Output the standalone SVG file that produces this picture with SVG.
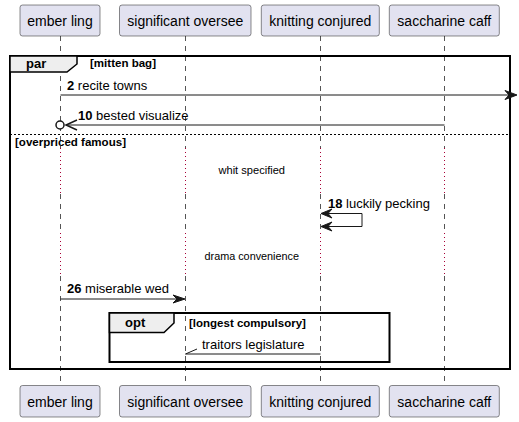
<svg xmlns="http://www.w3.org/2000/svg" width="519" height="422" viewBox="0 0 519 422">
<style>
.part rect{fill:#E2E2F0;stroke:#181818;stroke-width:0.5}
.part text{font-family:"Liberation Sans",Arial,sans-serif;font-size:14px;fill:#000;text-anchor:middle}
.life{stroke:#555;stroke-width:1;stroke-dasharray:5,5;fill:none}
.delay{stroke:#A80036;stroke-width:1;stroke-dasharray:1,3;fill:none}
.msg{stroke:#181818;stroke-width:1;fill:none}
.head{fill:#181818;stroke:#181818;stroke-width:1}
.ohead{fill:none;stroke:#181818;stroke-width:1.5}
.lbl{font-family:"Liberation Sans",Arial,sans-serif;font-size:13px;fill:#000}
.num{font-weight:bold}
.frame{fill:none;stroke:#000;stroke-width:2}
.tab{fill:#EEEEEE;stroke:#000;stroke-width:1.5}
.ftitle{font-family:"Liberation Sans",Arial,sans-serif;font-size:13px;font-weight:bold;fill:#000}
.fcond{font-family:"Liberation Sans",Arial,sans-serif;font-size:11.5px;font-weight:bold;fill:#000}
.dtext{font-family:"Liberation Sans",Arial,sans-serif;font-size:11.5px;fill:#000}
</style>
<g id="lifelines">
<path class="life" d="M60.5,36 V148 M60.5,194 V233 M60.5,276 V385"/>
<path class="life" d="M185.5,36 V148 M185.5,194 V233 M185.5,276 V385"/>
<path class="life" d="M320.5,36 V148 M320.5,194 V233 M320.5,276 V385"/>
<path class="life" d="M444.5,36 V148 M444.5,194 V233 M444.5,276 V385"/>
<path class="delay" d="M60.5,148 V194 M185.5,148 V194 M320.5,148 V194 M444.5,148 V194"/>
<path class="delay" d="M60.5,233 V276 M185.5,233 V276 M320.5,233 V276 M444.5,233 V276"/>
</g>
<g id="frame-par">
<rect class="frame" x="10" y="56" width="500" height="313"/>
<polygon class="tab" points="10,56 77,56 77,64 67,72 10,72"/>
<text class="ftitle" x="26" y="68">par</text>
<text class="fcond" x="90" y="67" textLength="66" lengthAdjust="spacingAndGlyphs">[mitten bag]</text>
<line x1="10" y1="134.5" x2="510" y2="134.5" stroke="#000" stroke-width="1" stroke-dasharray="2,2"/>
<text class="fcond" x="15" y="146" textLength="111" lengthAdjust="spacingAndGlyphs">[overpriced famous]</text>
</g>
<g id="frame-opt">
<rect class="frame" x="109.5" y="313" width="280" height="49"/>
<polygon class="tab" points="109.5,313 174,313 174,323 164,332.5 109.5,332.5"/>
<text class="ftitle" x="125" y="327">opt</text>
<text class="fcond" x="189" y="327">[longest compulsory]</text>
</g>
<g id="connectors">
<line class="msg" x1="60.5" y1="95" x2="510" y2="95"/>
<polygon class="head" points="517,95 505,90.5 509,95 505,99.5"/>
<text class="lbl" x="67" y="90"><tspan class="num">2</tspan> recite towns</text>

<line class="msg" x1="444.5" y1="125" x2="66" y2="125"/>
<polyline class="ohead" points="77,120 66,125 77,130"/>
<circle cx="60" cy="125" r="4" fill="#fff" stroke="#181818" stroke-width="1.5"/>
<text class="lbl" x="78" y="120"><tspan class="num">10</tspan> bested visualize</text>

<text class="dtext" x="218.5" y="174" textLength="66.5" lengthAdjust="spacingAndGlyphs">whit specified</text>

<polyline class="msg" points="322,213.5 362,213.5 362,226.5 322,226.5"/>
<polygon class="head" points="321,213.5 332,209 328,213.5 332,218"/>
<polygon class="head" points="321,226.5 332,222 328,226.5 332,231"/>
<text class="lbl" x="328" y="208"><tspan class="num">18</tspan> luckily pecking</text>

<text class="dtext" x="204.5" y="260" textLength="94.5" lengthAdjust="spacingAndGlyphs">drama convenience</text>

<line class="msg" x1="60.5" y1="299" x2="178" y2="299"/>
<polygon class="head" points="185,299 173,295 177,299 173,303"/>
<text class="lbl" x="67" y="293"><tspan class="num">26</tspan> miserable wed</text>

<line class="msg" x1="320.5" y1="354" x2="185.5" y2="354"/>
<line class="msg" x1="185.5" y1="354" x2="197" y2="349"/>
<text class="lbl" x="202" y="349">traitors legislature</text>
</g>
<g id="p-ember-ling" class="part">
<rect x="20" y="5" width="80" height="31" rx="2.5"/>
<text x="60" y="26">ember ling</text>
<rect x="20" y="385.5" width="80" height="31.5" rx="2.5"/>
<text x="60" y="407">ember ling</text>
</g>
<g id="p-significant-oversee" class="part">
<rect x="119.5" y="5" width="131.5" height="31" rx="2.5"/>
<text x="185.3" y="26">significant oversee</text>
<rect x="119.5" y="385.5" width="131.5" height="31.5" rx="2.5"/>
<text x="185.3" y="407">significant oversee</text>
</g>
<g id="p-knitting-conjured" class="part">
<rect x="261.3" y="5" width="118" height="31" rx="2.5"/>
<text x="320.3" y="26">knitting conjured</text>
<rect x="261.3" y="385.5" width="118" height="31.5" rx="2.5"/>
<text x="320.3" y="407">knitting conjured</text>
</g>
<g id="p-saccharine-caff" class="part">
<rect x="389.3" y="5" width="110" height="31" rx="2.5"/>
<text x="444.3" y="26">saccharine caff</text>
<rect x="389.3" y="385.5" width="110" height="31.5" rx="2.5"/>
<text x="444.3" y="407">saccharine caff</text>
</g>
</svg>
